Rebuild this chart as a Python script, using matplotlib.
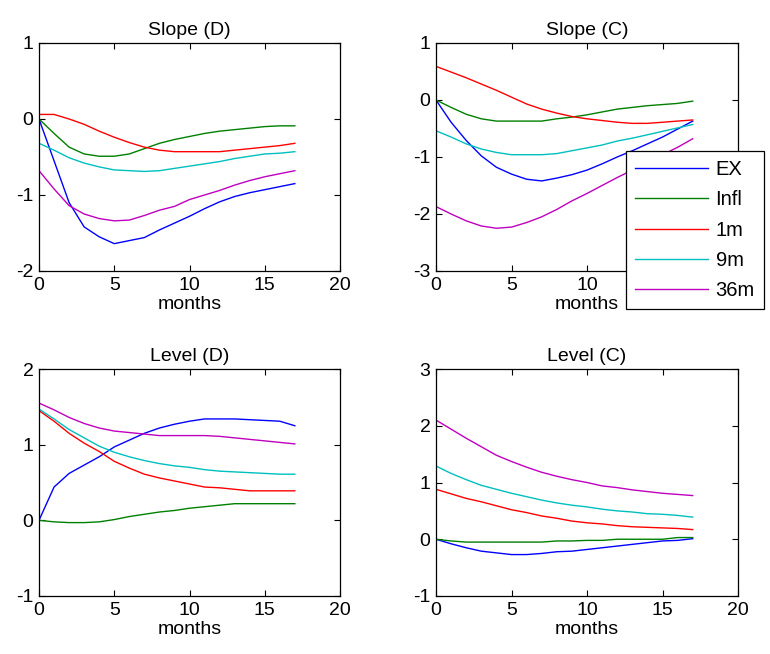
import numpy as np
import matplotlib
matplotlib.use('Agg')
import matplotlib.pyplot as plt

plt.rcParams['font.family'] = ['Liberation Sans', 'DejaVu Sans']
plt.rcParams['axes.unicode_minus'] = False

months = np.arange(18)
names = ['EX', 'Infl', '1m', '9m', '36m']
colors = ['#0000ff', '#008000', '#ff0000', '#00bfbf', '#bf00bf']

slope_d = {
    'EX':   [0, -0.55, -1.1, -1.42, -1.55, -1.64, -1.6, -1.56, -1.46, -1.37, -1.28, -1.18, -1.09, -1.02, -0.97, -0.93, -0.89, -0.85],
    'Infl': [0, -0.19, -0.37, -0.46, -0.49, -0.49, -0.46, -0.39, -0.32, -0.27, -0.23, -0.19, -0.16, -0.14, -0.12, -0.10, -0.09, -0.09],
    '1m':   [0.06, 0.06, 0.0, -0.07, -0.16, -0.24, -0.31, -0.37, -0.41, -0.43, -0.43, -0.43, -0.43, -0.41, -0.39, -0.37, -0.35, -0.32],
    '9m':   [-0.32, -0.41, -0.51, -0.58, -0.63, -0.67, -0.68, -0.69, -0.68, -0.65, -0.62, -0.59, -0.56, -0.52, -0.49, -0.46, -0.45, -0.43],
    '36m':  [-0.68, -0.92, -1.14, -1.25, -1.31, -1.34, -1.33, -1.27, -1.2, -1.15, -1.06, -1.0, -0.94, -0.87, -0.81, -0.76, -0.72, -0.68],
}
slope_c = {
    'EX':   [0, -0.39, -0.71, -0.98, -1.18, -1.3, -1.39, -1.42, -1.37, -1.31, -1.23, -1.12, -1.0, -0.89, -0.77, -0.65, -0.51, -0.37],
    'Infl': [0, -0.13, -0.25, -0.33, -0.37, -0.37, -0.37, -0.37, -0.33, -0.3, -0.26, -0.21, -0.16, -0.13, -0.1, -0.08, -0.06, -0.02],
    '1m':   [0.59, 0.49, 0.39, 0.28, 0.17, 0.05, -0.07, -0.16, -0.23, -0.29, -0.33, -0.36, -0.39, -0.41, -0.41, -0.39, -0.37, -0.35],
    '9m':   [-0.54, -0.65, -0.77, -0.86, -0.92, -0.96, -0.96, -0.96, -0.94, -0.89, -0.84, -0.79, -0.72, -0.67, -0.61, -0.55, -0.49, -0.43],
    '36m':  [-1.87, -2.0, -2.12, -2.21, -2.25, -2.23, -2.15, -2.05, -1.92, -1.77, -1.64, -1.5, -1.36, -1.23, -1.1, -0.96, -0.83, -0.68],
}
level_d = {
    'EX':   [0, 0.44, 0.62, 0.73, 0.84, 0.97, 1.06, 1.15, 1.22, 1.27, 1.31, 1.34, 1.34, 1.34, 1.33, 1.32, 1.31, 1.25],
    'Infl': [0, -0.02, -0.03, -0.03, -0.02, 0.01, 0.05, 0.08, 0.11, 0.13, 0.16, 0.18, 0.2, 0.22, 0.22, 0.22, 0.22, 0.22],
    '1m':   [1.45, 1.31, 1.15, 1.02, 0.91, 0.78, 0.69, 0.61, 0.56, 0.52, 0.48, 0.44, 0.43, 0.41, 0.39, 0.39, 0.39, 0.39],
    '9m':   [1.47, 1.34, 1.2, 1.09, 0.98, 0.9, 0.84, 0.79, 0.75, 0.72, 0.7, 0.67, 0.65, 0.64, 0.63, 0.62, 0.61, 0.61],
    '36m':  [1.55, 1.46, 1.36, 1.28, 1.22, 1.18, 1.16, 1.14, 1.12, 1.12, 1.12, 1.12, 1.11, 1.09, 1.07, 1.05, 1.03, 1.01],
}
level_c = {
    'EX':   [0, -0.08, -0.15, -0.21, -0.24, -0.27, -0.27, -0.25, -0.22, -0.21, -0.18, -0.15, -0.12, -0.09, -0.06, -0.03, -0.02, 0.01],
    'Infl': [0, -0.03, -0.05, -0.05, -0.05, -0.05, -0.05, -0.05, -0.03, -0.03, -0.02, -0.02, 0.0, 0.0, 0.0, 0.0, 0.03, 0.03],
    '1m':   [0.88, 0.8, 0.72, 0.66, 0.59, 0.52, 0.47, 0.41, 0.37, 0.32, 0.29, 0.27, 0.24, 0.22, 0.21, 0.2, 0.19, 0.17],
    '9m':   [1.29, 1.16, 1.05, 0.95, 0.88, 0.81, 0.75, 0.69, 0.64, 0.6, 0.57, 0.53, 0.5, 0.48, 0.45, 0.44, 0.42, 0.39],
    '36m':  [2.1, 1.94, 1.78, 1.63, 1.48, 1.37, 1.27, 1.18, 1.11, 1.05, 1.0, 0.94, 0.91, 0.87, 0.84, 0.81, 0.79, 0.77],
}

panels = [
    ('Slope (D)', slope_d, (-2, 1), [39, 43, 301, 228]),
    ('Slope (C)', slope_c, (-3, 1), [436, 43, 302, 228]),
    ('Level (D)', level_d, (-1, 2), [39, 369, 301, 227]),
    ('Level (C)', level_c, (-1, 3), [436, 369, 302, 227]),
]

W, H = 770, 654
fig = plt.figure(figsize=(W / 100, H / 100), dpi=100)

lines = []
for title, data, ylim, (x, y, w, h) in panels:
    ax = fig.add_axes([x / W, 1 - (y + h) / H, w / W, h / H])
    lines = []
    for name, c in zip(names, colors):
        ln, = ax.plot(months, data[name], color=c, lw=1.0, label=name)
        lines.append(ln)
    ax.set_xlim(0, 20)
    ax.set_ylim(*ylim)
    ax.set_xticks([0, 5, 10, 15, 20])
    ax.set_yticks(np.arange(ylim[0], ylim[1] + 1))
    ax.tick_params(direction='in', top=True, right=True, length=4,
                   labelsize=14, width=0.8, pad=4)
    for s in ax.spines.values():
        s.set_linewidth(0.9)
    ax.set_title(title, fontsize=14, pad=6)
    ax.set_xlabel('months', fontsize=14, labelpad=2)

# legend sits over the right edge of the Slope (C) panel, like the original
leg = fig.legend(lines, names, loc='upper left',
                 bbox_to_anchor=(626 / W, 1 - 151 / H), bbox_transform=fig.transFigure,
                 fontsize=14.5, fancybox=False, edgecolor='black', framealpha=1,
                 handlelength=3.6, handletextpad=0.4, labelspacing=0.56,
                 borderpad=0.45, borderaxespad=0)
leg.get_frame().set_linewidth(0.9)

fig.savefig('out.png', dpi=100)
